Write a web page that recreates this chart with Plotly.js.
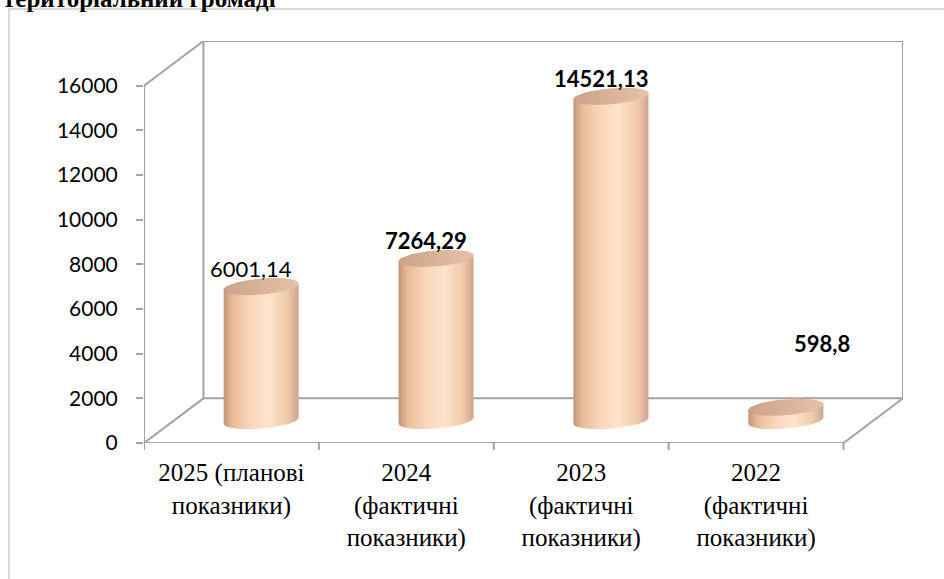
<!DOCTYPE html>
<html>
<head>
<meta charset="utf-8">
<script src="https://cdn.plot.ly/plotly-3.0.1.min.js"></script>
<style>
html,body{margin:0;padding:0;background:#fff;}
#chart{width:944px;height:579px;}
</style>
</head>
<body>
<div id="chart"></div>
<script>
// ---- data ----
const titleText = 'територіальний громаді';
const categories = ['2025 (планові<br>показники)', '2024<br>(фактичні<br>показники)', '2023<br>(фактичні<br>показники)', '2022<br>(фактичні<br>показники)'];
const values = [6001.14, 7264.29, 14521.13, 598.8];
const valueLabels = ['6001,14', '7264,29', '14521,13', '598,8'];
const labelBold = [false, true, true, true];
const yTicks = [0, 2000, 4000, 6000, 8000, 10000, 12000, 14000, 16000];

(function () {
  const serifFont = 'Liberation Serif';
  const sansFont = 'Lato';
  const padL = 144, padR = 903, padT = 41, padB = 443, figW = 944, figH = 579;
  const xRange = [-0.5, 3.84], yRange = [0, 18000];
  const pxPerX = (padR - padL) / (xRange[1] - xRange[0]);
  const pxPerY = (padB - padT) / (yRange[1] - yRange[0]);
  const depthX = 0.34, depthY = 2000;
  const yTop = yTicks[yTicks.length - 1];
  const gray = '#a3a3a3';
  const traces = [];
  function wallLine(xs, ys) {
    traces.push({type: 'scatter', mode: 'lines', x: xs, y: ys, line: {color: gray, width: 2},
      hoverinfo: 'skip', showlegend: false, cliponaxis: false});
  }
  const xFirst = xRange[0], xLast = categories.length - 0.5;
  wallLine([xFirst + depthX, xLast + depthX, xLast + depthX, xFirst + depthX, xFirst + depthX], [depthY, depthY, yTop + depthY, yTop + depthY, depthY]);
  wallLine([xFirst, xFirst, xFirst + depthX], [0, yTop, yTop + depthY]);
  wallLine([xFirst, xFirst + depthX], [0, depthY]);
  wallLine([xFirst, xLast, xLast + depthX], [0, 0, depthY]);

  const rx = 37.5 / pxPerX, ry = 8 / pxPerY, tilt = 3 / pxPerY;
  const steps = 60;
  function ell(cx, cy, t0, t1) {
    const xs = [], ys = [];
    for (let k = 0; k <= steps; k++) {
      const t = t0 + (t1 - t0) * k / steps;
      xs.push(cx + rx * Math.cos(t));
      ys.push(cy + ry * Math.sin(t) + tilt * Math.cos(t));
    }
    return [xs, ys];
  }
  const bodyScale = [[0, '#c2957a'], [0.12, '#e8bb9a'], [0.35, '#f9d6b9'], [0.6, '#ffe4cc'], [0.85, '#f1caab'], [1, '#cfa58c']];
  const topScale = [[0, '#cba288'], [0.6, '#dcb69c'], [1, '#e6c3a9']];
  values.forEach((v, i) => {
    const cx = i + depthX / 2, base = depthY / 2, top = base + v;
    const b = ell(cx, base, Math.PI, 2 * Math.PI);
    const t = ell(cx, top, 0, Math.PI);
    traces.push({type: 'scatter', mode: 'lines', x: b[0].concat(t[0]), y: b[1].concat(t[1]),
      fill: 'toself', line: {width: 0, color: 'rgba(0,0,0,0)'},
      fillgradient: {type: 'horizontal', colorscale: bodyScale},
      hoverinfo: 'skip', showlegend: false, cliponaxis: false});
    const e = ell(cx, top, 0, 2 * Math.PI);
    traces.push({type: 'scatter', mode: 'lines', x: e[0], y: e[1],
      fill: 'toself', line: {width: 0, color: 'rgba(0,0,0,0)'},
      fillgradient: {type: 'horizontal', colorscale: topScale},
      hoverinfo: 'skip', showlegend: false, cliponaxis: false});
  });

  const annotations = values.map((v, i) => {
    const small = v < 1000;
    return {
      x: i + depthX / 2, y: depthY / 2 + v, xref: 'x', yref: 'y',
      text: labelBold[i] ? '<b>' + valueLabels[i] + '</b>' : valueLabels[i],
      showarrow: false, xanchor: 'center', yanchor: 'middle',
      xshift: small ? 36 : -10, yshift: small ? 64 : 18,
      font: {family: sansFont, size: 22, color: '#000'}
    };
  });
  annotations.push({
    text: '<b>' + titleText + '</b>', xref: 'paper', yref: 'paper',
    x: (1 - padL) / (padR - padL), y: (padB + 2) / (padB - padT), xanchor: 'left', yanchor: 'middle',
    showarrow: false, font: {family: serifFont, size: 25, color: '#000'}
  });

  // category boundary tick marks below the front floor edge
  const tickLenPaper = 7 / (padB - padT);
  const shapes = [{type: 'rect', xref: 'paper', yref: 'paper', layer: 'below',
    x0: (9 - padL) / (padR - padL), x1: 1.2, y0: (padB - 9) / (padB - padT), y1: -0.5,
    line: {color: '#d9d9d9', width: 2}}];
  for (let k = 0; k <= categories.length; k++) {
    shapes.push({type: 'line', xref: 'x', yref: 'paper', x0: k - 0.5, x1: k - 0.5,
      y0: 0, y1: -tickLenPaper, line: {color: gray, width: 2}});
  }

  const layout = {
    width: figW, height: figH,
    margin: {l: padL, r: figW - padR, t: padT, b: figH - padB, pad: 0},
    paper_bgcolor: '#fff', plot_bgcolor: 'rgba(0,0,0,0)',
    showlegend: false,
    xaxis: {
      range: xRange, tickvals: categories.map((c, i) => i), ticktext: categories,
      ticks: '', showgrid: false, zeroline: false, showline: false,
      tickfont: {family: serifFont, size: 25, color: '#000'},
      ticklabelstandoff: 12
    },
    yaxis: {
      range: yRange, tickvals: yTicks, ticktext: yTicks.map(String),
      ticks: 'outside', ticklen: 7, tickcolor: gray, tickwidth: 2,
      showgrid: false, zeroline: false, showline: false,
      tickfont: {family: sansFont, size: 21, color: '#000'},
      ticklabelstandoff: 14
    },
    shapes: shapes,
    annotations: annotations
  };
  Plotly.newPlot('chart', traces, layout, {staticPlot: true, displayModeBar: false});
})();
</script>
</body>
</html>
